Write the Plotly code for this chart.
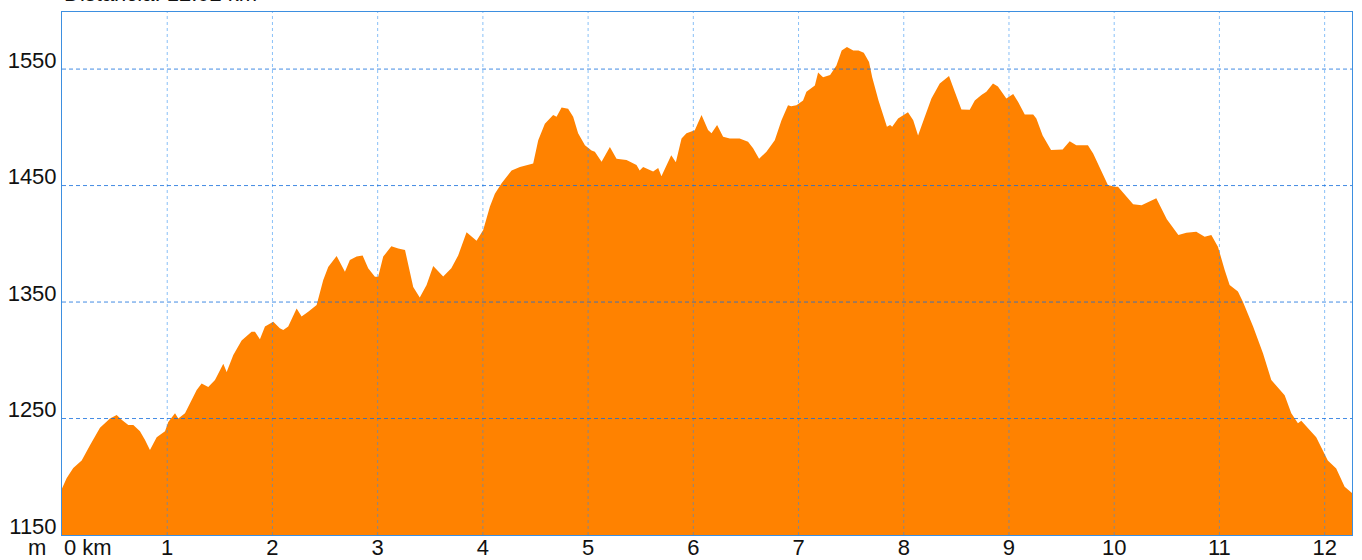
import plotly.graph_objects as go

# Distance along the route (km) and elevation (m)
dist_km = [0, 0.045, 0.107, 0.187, 0.266, 0.361, 0.456, 0.52, 0.567, 0.63, 0.678, 0.741, 0.789, 0.836,
           0.9, 0.979, 1.01, 1.074, 1.105, 1.169, 1.28, 1.327, 1.39, 1.454, 1.533, 1.565, 1.628, 1.707,
           1.802, 1.834, 1.881, 1.929, 2.008, 2.07, 2.103, 2.15, 2.23, 2.277, 2.34, 2.42, 2.483, 2.53,
           2.61, 2.689, 2.736, 2.8, 2.857, 2.91, 2.974, 3.005, 3.053, 3.13, 3.196, 3.26, 3.338, 3.40,
           3.465, 3.528, 3.623, 3.70, 3.765, 3.845, 3.94, 4.003, 4.067, 4.114, 4.178, 4.273, 4.352,
           4.415, 4.478, 4.526, 4.589, 4.668, 4.7, 4.748, 4.81, 4.858, 4.905, 4.97, 5.033, 5.064,
           5.128, 5.207, 5.27, 5.365, 5.46, 5.49, 5.523, 5.618, 5.666, 5.697, 5.79, 5.834, 5.888,
           5.935, 6.014, 6.078, 6.14, 6.173, 6.226, 6.283, 6.347, 6.44, 6.52, 6.568, 6.625, 6.695,
           6.774, 6.838, 6.9, 6.93, 6.98, 7.043, 7.075, 7.155, 7.186, 7.233, 7.3, 7.36, 7.41, 7.46,
           7.52, 7.57, 7.62, 7.67, 7.7, 7.76, 7.84, 7.87, 7.89, 7.946, 8.04, 8.09, 8.136, 8.2, 8.263,
           8.342, 8.43, 8.485, 8.548, 8.627, 8.675, 8.738, 8.785, 8.848, 8.895, 8.975, 9.04, 9.086,
           9.15, 9.23, 9.26, 9.32, 9.40, 9.51, 9.577, 9.64, 9.75, 9.80, 9.862, 9.94, 10.005, 10.036,
           10.18, 10.26, 10.40, 10.50, 10.61, 10.686, 10.78, 10.86, 10.923, 10.986, 11.05, 11.097,
           11.176, 11.224, 11.32, 11.414, 11.493, 11.62, 11.683, 11.746, 11.778, 11.92, 12.03, 12.11,
           12.19, 12.26]

elev_m = [1190, 1199, 1207.5, 1214, 1227, 1242, 1250, 1253, 1249, 1244.5, 1244.5, 1239, 1231.5, 1223,
          1234, 1239, 1247, 1254.5, 1250, 1254.5, 1274.5, 1280, 1277, 1283, 1297, 1290, 1304.5, 1317,
          1324.5, 1324.5, 1318, 1329, 1333, 1327.5, 1326, 1329, 1344.5, 1337.5, 1341.7, 1347.5, 1369,
          1380, 1389.5, 1376, 1386, 1389, 1390, 1379, 1371.7, 1371.7, 1389, 1398, 1396, 1394.6, 1363,
          1354, 1364.6, 1381, 1372, 1379, 1390, 1410, 1402.6, 1411.8, 1432, 1443, 1452, 1463, 1466,
          1467.6, 1469, 1489, 1503, 1510.5, 1509, 1517, 1516, 1509, 1495, 1484.7, 1480, 1479, 1470.4,
          1483, 1473, 1472, 1467.6, 1463, 1466, 1462, 1465, 1458, 1476, 1470, 1490.5, 1494.8, 1497.5,
          1510.5, 1497.6, 1495, 1502, 1492, 1490.5, 1490.5, 1487.6, 1482, 1473, 1479, 1489, 1506,
          1519, 1518, 1519, 1523, 1530.5, 1536, 1547, 1543, 1545, 1553, 1566, 1569, 1566, 1566, 1564,
          1556, 1543, 1523, 1500.5, 1502, 1500.5, 1507.6, 1513, 1506, 1493, 1509, 1524.8, 1537.7,
          1544, 1530.5, 1515.4, 1515, 1523, 1527.7, 1530.5, 1537.7, 1535, 1524.8, 1528.6, 1522, 1511,
          1511, 1507.6, 1493, 1480.5, 1481, 1488, 1484.7, 1484.7, 1477.6, 1466, 1450.4, 1449, 1449,
          1434, 1433, 1439, 1421, 1407.5, 1409.5, 1410.4, 1406, 1407.5, 1397.5, 1377.5, 1364.6, 1359,
          1350, 1329, 1306, 1283, 1270, 1254.5, 1246, 1248, 1234, 1214, 1207, 1191.5, 1186]

x_ticks = list(range(1, 13))
x_tick_text = [str(k) for k in x_ticks]
y_ticks = [1150, 1250, 1350, 1450, 1550]
y_tick_text = [str(v) for v in y_ticks]
title_text = "Distancia: 12.02 km"

X_MAX = 12.26
Y_MIN, Y_MAX = 1150, 1599
FONT = "Liberation Sans, Arial, sans-serif"

fig = go.Figure()
fig.add_trace(go.Scatter(
    x=dist_km, y=elev_m, mode="lines", fill="tozeroy",
    fillcolor="#ff8200", line=dict(width=0, color="#ff8200"),
    hoverinfo="x+y", showlegend=False,
))

shapes = []
for k in x_ticks:
    shapes.append(dict(type="line", xref="x", yref="paper", x0=k, x1=k, y0=0, y1=1,
                       layer="above", line=dict(color="rgba(40,140,240,0.55)", width=1, dash="3px,3px")))
for v in y_ticks[1:]:
    shapes.append(dict(type="line", xref="paper", yref="y", x0=0, x1=1, y0=v, y1=v,
                       layer="above", line=dict(color="rgba(20,110,220,0.8)", width=1, dash="4px,3px")))

fig.update_layout(
    width=1362, height=560,
    margin=dict(l=62, r=10, t=12, b=25),
    paper_bgcolor="white", plot_bgcolor="white",
    font=dict(family=FONT, size=22, color="#111"),
    shapes=shapes,
    xaxis=dict(range=[0, X_MAX], tickvals=x_ticks, ticktext=x_tick_text, showgrid=False,
               zeroline=False, showline=True, mirror=True, linecolor="#3d8fe0", linewidth=1,
               ticks="", automargin=False, ticklabelstandoff=-7,
               tickfont=dict(size=22, family=FONT, color="#111")),
    yaxis=dict(range=[Y_MIN, Y_MAX], tickvals=y_ticks, ticktext=y_tick_text, showgrid=False,
               zeroline=False, showline=True, mirror=True, linecolor="#3d8fe0", linewidth=1,
               ticks="", ticklabelshift=-9, ticklabelstandoff=0, automargin=False,
               tickfont=dict(size=22, family=FONT, color="#111")),
    annotations=[
        dict(text="0 km", xref="x", yref="paper", x=0, y=0, xanchor="left", yanchor="top",
             showarrow=False, yshift=2, font=dict(size=22, family=FONT, color="#111")),
        dict(text="m", xref="paper", yref="paper", x=0, y=0, xanchor="right", yanchor="top",
             showarrow=False, xshift=-14, yshift=2, font=dict(size=22, family=FONT, color="#111")),
        dict(text=title_text, xref="paper", yref="paper", x=0, y=1, xanchor="left", yanchor="bottom",
             showarrow=False, yshift=4, font=dict(size=22, family=FONT, color="#111")),
    ],
)

fig.write_html("out.html", config={"displayModeBar": False},
               post_script="document.body.style.margin='0';")
